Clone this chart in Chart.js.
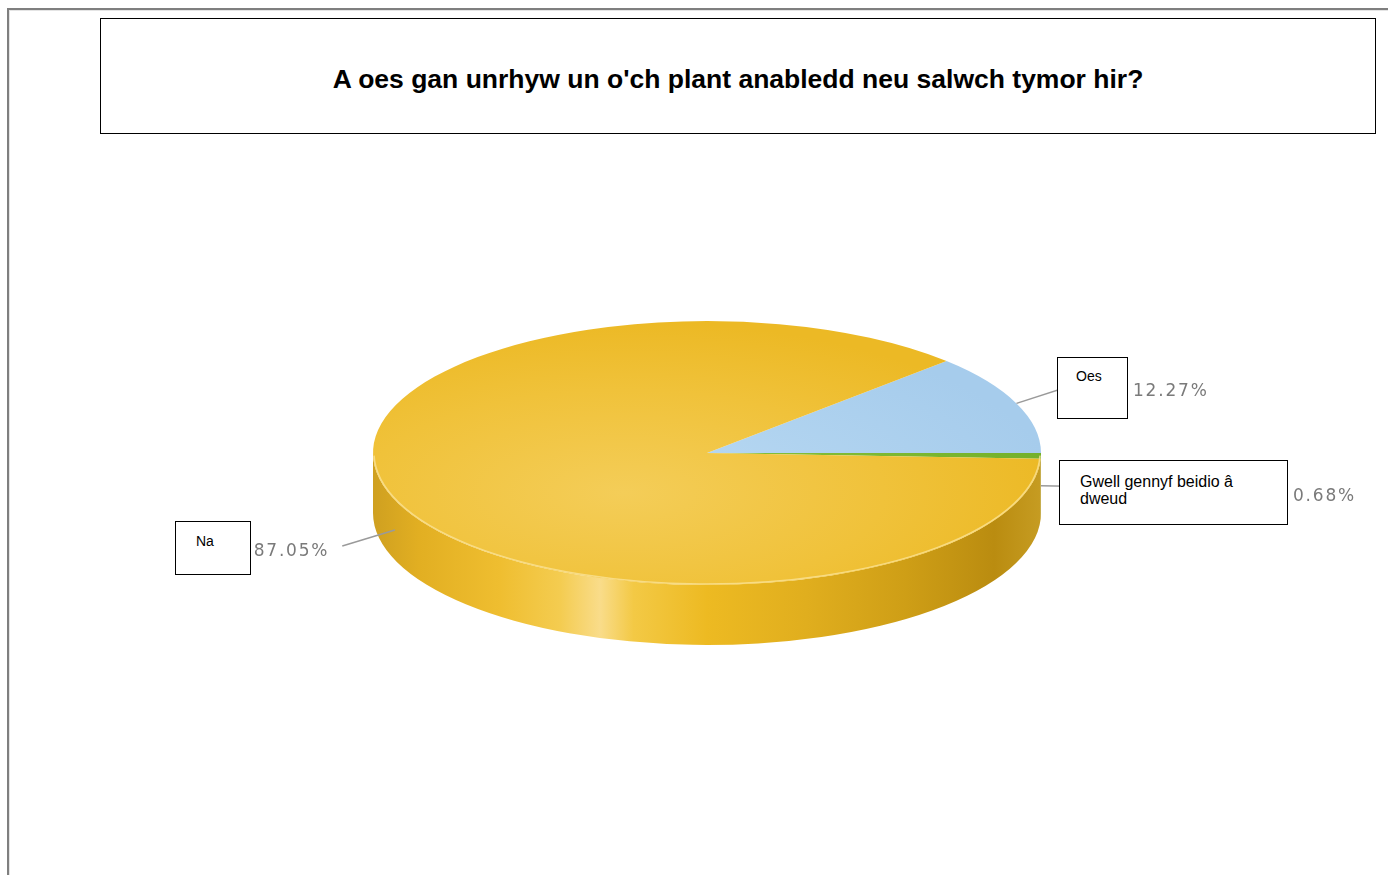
<!DOCTYPE html>
<html>
<head>
<meta charset="utf-8">
<script src="https://cdn.jsdelivr.net/npm/chart.js@4.4.1/dist/chart.umd.min.js"></script>
<style>
    html, body { margin: 0; padding: 0; background: #fff; }
    #wrap { position: relative; width: 1388px; height: 875px; overflow: hidden; }
    #frame {
        position: absolute; left: 7px; top: 8px; width: 1400px; height: 900px;
        border-top: 2px solid #7f7f7f; border-left: 2px solid #7f7f7f;
        box-shadow: inset 1px 1px 0 #e4e4e4;
    }
    #chartBox { position: absolute; left: 0; top: 0; width: 1388px; height: 875px; }
    #title {
        position: absolute; left: 100px; top: 18px; width: 1276px; height: 116px;
        box-sizing: border-box; border: 1px solid #000; background: #fff;
        font: bold 26.5px "Liberation Sans", Arial, sans-serif; color: #000;
        text-align: center; line-height: 30px; padding-top: 45px;
    }
    .lbl {
        position: absolute; box-sizing: border-box; border: 1px solid #000; background: #fff;
        font-family: "Liberation Sans", Arial, sans-serif; color: #000; z-index: 2;
    }
    .lbl span { display: block; max-width: 190px; }
</style>
</head>
<body>
<div id="wrap">
    <div id="frame"></div>
    <div id="chartBox"><canvas id="pieChart"></canvas></div>
    <div id="title">A oes gan unrhyw un o'ch plant anabledd neu salwch tymor hir?</div>
</div>
<script>
// Data
const categories = ['Oes', 'Gwell gennyf beidio â dweud', 'Na'];
const percentages = [12.27, 0.68, 87.05];

// Styles
const topStops = [
    [[0, '#BADAF3'], [1, '#A6CCEC']],
    [[0, '#8CC63F'], [1, '#74B02A']],
    [[0, '#F4CD58'], [0.6, '#F0C23A'], [1, '#ECB925']]
];
const sideStops = [
    [[0, '#8DB6D8'], [1, '#7FA8CC']],
    [[0, '#5E9420'], [1, '#4E8018']],
    [[0, '#CFA020'], [0.07, '#E2AF22'], [0.19, '#EFBE30'], [0.28, '#F4CC50'], [0.34, '#F9DC8A'],
     [0.39, '#F3C945'], [0.5, '#EDBA22'], [0.65, '#E0AE1E'], [0.8, '#CE9E16'], [0.93, '#BA8C10'], [1, '#C69C22']]
];
const TILT = 0.395;   // vertical squash of the pie
const DEPTH = 60;     // thickness of the pie in px

// label boxes (layout)
const boxLayout = [
    { left: 1057, top: 357, width: 71, height: 62, font: 14, lh: 16, padTop: 10, padLeft: 18 },
    { left: 1059, top: 460, width: 229, height: 65, font: 16, lh: 17, padTop: 12, padLeft: 20 },
    { left: 175, top: 521, width: 76, height: 54, font: 14, lh: 16, padTop: 11, padLeft: 20 }
];

boxLayout.forEach((b, i) => {
    const div = document.createElement('div');
    div.className = 'lbl';
    div.style.left = b.left + 'px';
    div.style.top = b.top + 'px';
    div.style.width = b.width + 'px';
    div.style.height = b.height + 'px';
    div.style.fontSize = b.font + 'px';
    div.style.lineHeight = b.lh + 'px';
    div.style.padding = b.padTop + 'px 0 0 ' + b.padLeft + 'px';
    div.innerHTML = '<span>' + categories[i] + '</span>';
    document.getElementById('wrap').appendChild(div);
});

function topFill(c) {
    const i = c.dataIndex;
    const area = c.chart.chartArea;
    if (!area || i === undefined) return '#F1C43C';
    const cx = (area.left + area.right) / 2;
    const cy = (area.top + area.bottom) / 2;
    const r = Math.min(area.width, area.height) / 2;
    const gx = cx - 0.25 * r, gy = cy + 0.3 * r;
    const g = c.chart.ctx.createRadialGradient(gx, gy, 0, gx, gy, r * 1.3);
    topStops[i].forEach(s => g.addColorStop(s[0], s[1]));
    return g;
}

// parts of an arc that lie on the front (lower) half of the pie
function frontParts(s, e) {
    const parts = [];
    for (let k = -1; k <= 1; k++) {
        const lo = Math.max(s, 2 * Math.PI * k);
        const hi = Math.min(e, 2 * Math.PI * k + Math.PI);
        if (hi > lo) parts.push([lo, hi]);
    }
    return parts;
}

const pie3d = {
    id: 'pie3d',
    beforeDatasetsDraw(chart) {
        const ctx = chart.ctx;
        const arcs = chart.getDatasetMeta(0).data;
        const cx = arcs[0].x, cy = arcs[0].y, r = arcs[0].outerRadius;
        const dp = DEPTH / TILT;
        ctx.save();
        ctx.translate(cx, cy);
        ctx.scale(1, TILT);
        ctx.translate(-cx, -cy);
        arcs.forEach((arc, i) => {
            frontParts(arc.startAngle, arc.endAngle).forEach(([a1, a2]) => {
                const g = ctx.createLinearGradient(cx - r, 0, cx + r, 0);
                sideStops[i].forEach(s => g.addColorStop(s[0], s[1]));
                ctx.beginPath();
                ctx.arc(cx, cy + dp, r, a1, a2);
                ctx.arc(cx, cy, r, a2, a1, true);
                ctx.closePath();
                ctx.fillStyle = g;
                ctx.fill();
            });
        });
    },
    afterDatasetsDraw(chart) {
        const ctx = chart.ctx;
        ctx.restore();
        const arcs = chart.getDatasetMeta(0).data;
        const cx = arcs[0].x, cy = arcs[0].y, r = arcs[0].outerRadius;

        // light rim on the front edge
        ctx.save();
        ctx.beginPath();
        ctx.ellipse(cx, cy, r - 1, r * TILT - 1, 0, 0.02, Math.PI - 0.02);
        ctx.strokeStyle = 'rgba(250, 226, 150, 0.8)';
        ctx.lineWidth = 1.5;
        ctx.stroke();

        // leader lines and percentages
        arcs.forEach((arc, i) => {
            const mid = (arc.startAngle + arc.endAngle) / 2;
            const cs = Math.cos(mid), sn = Math.sin(mid);
            let x0 = cx + r * cs;
            let y0 = cy + r * TILT * sn;
            if (sn > 0) y0 += DEPTH / 2;
            const len = Math.hypot(cs, 0.8 * sn);
            const x1 = x0 + 55 * cs / len;
            const y1 = y0 + 55 * 0.8 * sn / len;
            ctx.beginPath();
            ctx.moveTo(x0, y0);
            ctx.lineTo(x1, y1);
            ctx.strokeStyle = '#9a9a9a';
            ctx.lineWidth = 1.5;
            ctx.stroke();

            const b = boxLayout[i];
            ctx.font = '17px "DejaVu Sans", Verdana, sans-serif';
            ctx.letterSpacing = '1.8px';
            ctx.fillStyle = '#7a7a7a';
            ctx.textBaseline = 'alphabetic';
            const ty = b.top + b.height / 2 + 8;
            const txt = percentages[i].toFixed(2) + '%';
            if (cs >= 0) {
                ctx.textAlign = 'left';
                ctx.fillText(txt, b.left + b.width + 5, ty);
            } else {
                ctx.textAlign = 'right';
                ctx.fillText(txt, x1 - 13, ty);
            }
        });
        ctx.restore();
    }
};

const chart = new Chart(document.getElementById('pieChart'), {
    type: 'pie',
    data: {
        labels: categories,
        datasets: [{
            data: percentages,
            backgroundColor: topFill,
            borderWidth: 0,
            clip: false
        }]
    },
    options: {
        responsive: true,
        maintainAspectRatio: false,
        animation: false,
        events: [],
        rotation: 45.83,
        layout: { padding: { left: 373, right: 347, top: 119, bottom: 88 } },
        plugins: {
            legend: { display: false },
            tooltip: { enabled: false },
            title: { display: false }
        }
    },
    plugins: [pie3d]
});
</script>
</body>
</html>
